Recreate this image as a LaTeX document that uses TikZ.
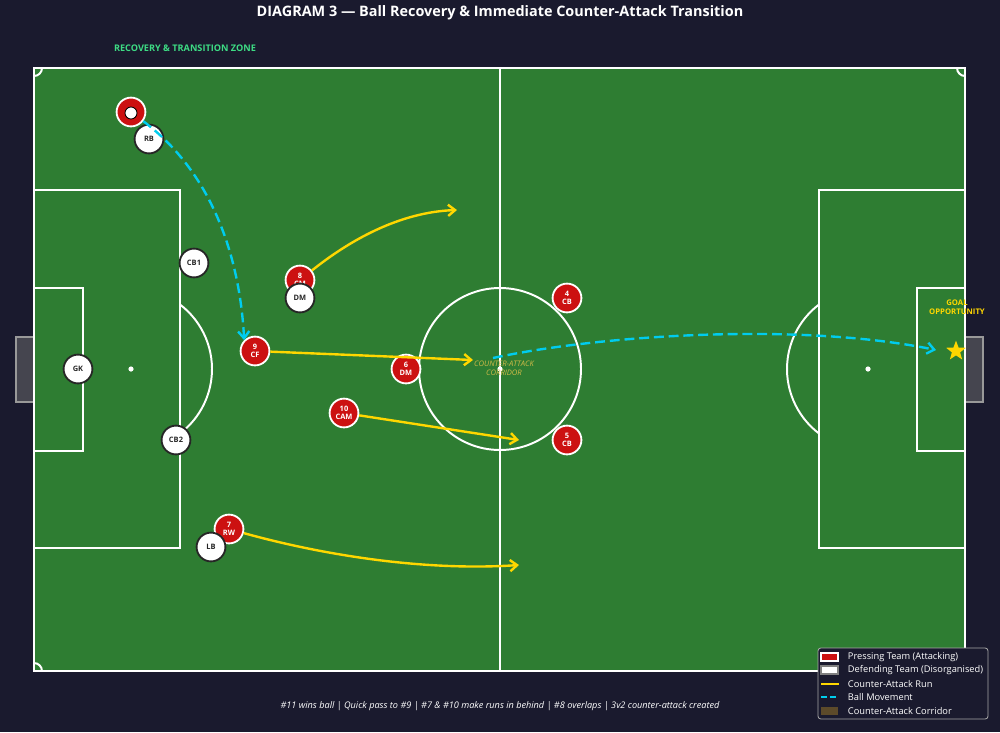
\documentclass[tikz,border=0pt]{standalone}
\usepackage{fontspec}
\setmainfont{Open Sans}
\usetikzlibrary{shapes.geometric,arrows.meta,positioning}
\definecolor{bgnavy}{HTML}{1A1A2E}
\definecolor{pitchgreen}{HTML}{2E7D32}
\definecolor{pressred}{HTML}{CC1111}
\definecolor{runyellow}{HTML}{FFD700}
\definecolor{ballcyan}{HTML}{00CCEE}
\definecolor{zonegreen}{HTML}{3DDC84}
\definecolor{corrtext}{HTML}{D4BC48}
\definecolor{corrbrown}{HTML}{5C4A2A}
\definecolor{goalgrey}{HTML}{45454F}
\tikzset{
    attk/.style={circle, draw=white, line width=1.3pt, fill=pressred, text=white,
        minimum size=0.72cm, inner sep=0pt, align=center,
        font=\fontsize{5.3pt}{5.8pt}\selectfont\bfseries},
    dfnd/.style={circle, draw=black!85, line width=1.3pt, fill=white, text=black!85,
        minimum size=0.72cm, inner sep=0pt, align=center,
        font=\fontsize{5.3pt}{5.8pt}\selectfont\bfseries},
    run/.style={runyellow, line width=1.7pt, -{Straight Barb[length=5pt,width=8pt]}},
    ballmove/.style={ballcyan, line width=1.7pt, dash pattern=on 7pt off 3.5pt,
        -{Straight Barb[length=5pt,width=8pt]}},
    pline/.style={white, line width=1.4pt},
    legtext/.style={anchor=west, text=white!85, font=\fontsize{6.6pt}{7pt}\selectfont}
}
\begin{document}
\begin{tikzpicture}[x=0.025cm, y=-0.025cm]
    \fill[bgnavy] (0,0) rectangle (1000,732);
    \useasboundingbox (0,0) rectangle (1000,732);

    % title and zone label
    \node[text=white, font=\fontsize{10.25pt}{12pt}\selectfont\bfseries] (title) at (500,13)
        {DIAGRAM 3 --- Ball Recovery \& Immediate Counter-Attack Transition};
    \node[text=zonegreen, font=\fontsize{6.5pt}{7pt}\selectfont\bfseries] (zone) at (185,48)
        {RECOVERY \& TRANSITION ZONE};

    % goals
    \draw[gray!80, line width=1pt, fill=goalgrey] (16,337) rectangle (34,402);
    \draw[gray!80, line width=1pt, fill=goalgrey] (965,337) rectangle (983,402);

    % pitch
    \fill[pitchgreen] (34,68) rectangle (965,671);
    \begin{scope}
        \clip (34,68) rectangle (965,671);
        \foreach \cx/\cy in {34/68, 965/68, 34/671, 965/671}
            \draw[pline] (\cx,\cy) circle[radius=8];
    \end{scope}
    \draw[pline] (34,68) rectangle (965,671);
    \draw[pline] (500,68) -- (500,671);
    \draw[pline] (500,369) circle[radius=81];
    \fill[white] (500,369) circle[radius=2.6];
    \draw[pline] (34,190) rectangle (180,548);
    \draw[pline] (34,288) rectangle (83,451);
    \draw[pline] (819,190) rectangle (965,548);
    \draw[pline] (917,288) rectangle (965,451);
    \fill[white] (131,369) circle[radius=2.6];
    \fill[white] (868,369) circle[radius=2.6];
    \draw[pline] (131,369) ++(-52.8:81) arc[start angle=-52.8, end angle=52.8, radius=81];
    \draw[pline] (868,369) ++(127.2:81) arc[start angle=127.2, end angle=232.8, radius=81];

    \node[text=corrtext, align=center, font=\fontsize{5.4pt}{6.2pt}\selectfont\itshape] (corr) at (504,368)
        {COUNTER-ATTACK\\CORRIDOR};

    % pressing team
    \node[attk] (p11) at (131,112) {11};
    \node[attk] (p8) at (300,280) {8\\CM};
    \node[attk] (p9) at (255,351) {9\\CF};
    \node[attk] (p6) at (406,369) {6\\DM};
    \node[attk] (p10) at (344,413) {10\\CAM};
    \node[attk] (p7) at (229,529) {7\\RW};
    \node[attk] (p4) at (567,298) {4\\CB};
    \node[attk] (p5) at (567,440) {5\\CB};
    \draw[black, fill=white, line width=0.6pt] (131,113) circle[radius=6];

    % defending team
    \node[dfnd] (rb) at (149,139) {RB};
    \node[dfnd] (cb1) at (194,263) {CB1};
    \node[dfnd] (dm) at (300,298) {DM};
    \node[dfnd] (gk) at (78,369) {GK};
    \node[dfnd] (cb2) at (176,440) {CB2};
    \node[dfnd] (lb) at (211,547) {LB};

    % runs
    \coordinate (r8) at (457,210);
    \coordinate (r9) at (473,360);
    \coordinate (r10) at (519,440);
    \coordinate (r7) at (519,565);
    \draw[run] (p8) .. controls (350,240) and (400,212) .. (r8);
    \draw[run] (p9) -- (r9);
    \draw[run] (p10) -- (r10);
    \draw[run] (p7) .. controls (330,557) and (430,571) .. (r7);

    % ball movement
    \coordinate (b1) at (493,358);
    \coordinate (b2) at (936,350);
    \draw[ballmove] (p11) .. controls (215,175) and (240,262) .. (p9.north west);
    \draw[ballmove] (b1) .. controls (600,335) and (800,322) .. (b2);

    % goal chance
    \node[star, star points=5, star point ratio=2.4, fill=runyellow, minimum size=0.52cm,
        inner sep=0pt] (goal) at (956,351) {};
    \node[text=runyellow, align=center, font=\fontsize{5.5pt}{6.5pt}\selectfont\bfseries] (chance) at (957,307)
        {GOAL\\OPPORTUNITY};

    % legend
    \draw[gray!70, fill=bgnavy, rounded corners=2pt, line width=0.6pt] (818,648) rectangle (988,719);
    \draw[white, fill=pressred, line width=0.8pt] (821,653) rectangle (838,661);
    \node[legtext] (l1) at (843,657) {Pressing Team (Attacking)};
    \draw[gray, fill=white, line width=0.8pt] (821,666) rectangle (838,674);
    \node[legtext] (l2) at (843,670) {Defending Team (Disorganised)};
    \draw[runyellow, line width=1.7pt] (821,684) -- (839,684);
    \node[legtext] (l3) at (843,684) {Counter-Attack Run};
    \draw[ballcyan, line width=1.7pt, dash pattern=on 4pt off 2.5pt] (821,697) -- (839,697);
    \node[legtext] (l4) at (843,697) {Ball Movement};
    \fill[corrbrown] (821,707) rectangle (838,715);
    \node[legtext] (l5) at (843,711) {Counter-Attack Corridor};

    % caption
    \node[text=white!75, font=\fontsize{6.5pt}{7pt}\selectfont\itshape] (caption) at (500,706)
        {\#11 wins ball | Quick pass to \#9 | \#7 \& \#10 make runs in behind | \#8 overlaps | 3v2 counter-attack created};
\end{tikzpicture}
\end{document}
